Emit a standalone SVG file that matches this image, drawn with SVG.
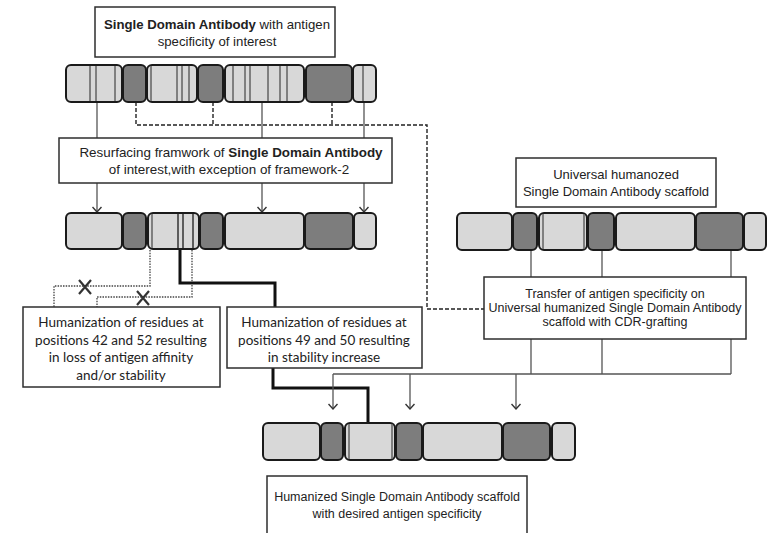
<svg xmlns="http://www.w3.org/2000/svg" width="777" height="533" viewBox="0 0 777 533">
<style>
.bg{fill:#fff}
.box{fill:#fff;stroke:#2e2e2e;stroke-width:1.5}
.lt{fill:#d8d8d8;stroke:#1a1a1a;stroke-width:2}
.dk{fill:#7d7d7d;stroke:#1a1a1a;stroke-width:2}
.st{stroke:#6a6a6a;stroke-width:1.6}
.ar{font-family:"Liberation Sans",Arial,sans-serif;font-size:12.5px;fill:#222;text-anchor:middle}
.ar13{font-size:13.2px}
.ca{font-family:Lato,"Open Sans",sans-serif;font-size:13.5px;fill:#222;text-anchor:middle}
.b{font-weight:bold}
.con{fill:none;stroke:#555;stroke-width:1.3}
.dash{fill:none;stroke:#222;stroke-width:1.4;stroke-dasharray:4,2}
.dot{fill:none;stroke:#444;stroke-width:1.3;stroke-dasharray:1.5,1.2}
.thick{fill:none;stroke:#111;stroke-width:3}
.x{stroke:#333;stroke-width:2.2}
</style>
<defs>
<marker id="arr" markerWidth="10" markerHeight="10" refX="9" refY="5" orient="auto" markerUnits="userSpaceOnUse" viewBox="0 0 10 10">
<polyline points="4,0.5 9,5 4,9.5" fill="none" stroke="#333" stroke-width="1.4"/>
</marker>
</defs>
<rect class="bg" width="777" height="533"/>

<g id="connectors">
<line class="con" x1="97" y1="102" x2="97" y2="138"/>
<line class="con" x1="262" y1="102" x2="262" y2="138"/>
<line class="con" x1="364" y1="102" x2="364" y2="138"/>
<line class="con" x1="97" y1="183" x2="97" y2="212" marker-end="url(#arr)"/>
<line class="con" x1="262" y1="183" x2="262" y2="212" marker-end="url(#arr)"/>
<line class="con" x1="364" y1="183" x2="364" y2="212" marker-end="url(#arr)"/>
<path class="dash" d="M136,102 V125 H427 V309 H484"/>
<path class="dash" d="M213,102 V125"/>
<path class="dash" d="M332,102 V125"/>
<path class="dot" d="M150,250 V286 H54 V307"/>
<path class="dot" d="M192,250 V297 H97 V307"/>
<path class="x" d="M79,280 L91,294 M91,280 L79,294"/>
<path class="x" d="M137,291 L149,305 M149,291 L137,305"/>
<path class="thick" d="M180,250 V283 H275 V307"/>
<path class="thick" d="M273,368 V388 H368 V423"/>
<line class="con" x1="531" y1="250" x2="531" y2="277"/>
<line class="con" x1="602" y1="250" x2="602" y2="277"/>
<line class="con" x1="731" y1="250" x2="731" y2="277"/>
<path class="con" d="M531,339 V374 M602,339 V374 M731,339 V374 M333,374 H731"/>
<line class="con" x1="333" y1="374" x2="333" y2="409" marker-end="url(#arr)"/>
<line class="con" x1="410" y1="374" x2="410" y2="409" marker-end="url(#arr)"/>
<line class="con" x1="516" y1="374" x2="516" y2="409" marker-end="url(#arr)"/>
</g>

<g id="box-top">
<rect class="box" x="95" y="7" width="240" height="50"/>
<text class="ar ar13" x="217" y="29"><tspan class="b">Single Domain Antibody</tspan> with antigen</text>
<text class="ar ar13" x="217" y="46">specificity of interest</text>
</g>

<g id="bar1">
<rect class="lt" x="66" y="65" width="56" height="37" rx="5"/>
<rect class="dk" x="123" y="65" width="23" height="37" rx="5"/>
<rect class="lt" x="147" y="65" width="50" height="37" rx="5"/>
<rect class="dk" x="198" y="65" width="25" height="37" rx="5"/>
<rect class="lt" x="225" y="65" width="79" height="37" rx="5"/>
<rect class="dk" x="306" y="65" width="46" height="37" rx="5"/>
<rect class="lt" x="353" y="65" width="23" height="37" rx="5"/>
<path class="st" d="M90,66 V101 M96,66 V101 M115,66 V101 M151,66 V101 M177,66 V101 M182,66 V101 M189,66 V101 M233,66 V101 M245,66 V101 M250,66 V101 M268,66 V101 M280,66 V101 M287,66 V101 M363,66 V101"/>
</g>

<g id="box-resurfacing">
<rect class="box" x="59" y="138" width="333" height="45"/>
<text class="ar" x="231" y="157" style="font-size:13.4px">Resurfacing framwork of <tspan class="b">Single Domain Antibody</tspan></text>
<text class="ar" x="229" y="174" style="font-size:13.4px">of interest,with exception of framework-2</text>
</g>

<g id="bar2">
<rect class="lt" x="66" y="213" width="56" height="36" rx="5"/>
<rect class="dk" x="123" y="213" width="23" height="36" rx="5"/>
<rect class="lt" x="148" y="213" width="51" height="36" rx="5"/>
<rect class="dk" x="200" y="213" width="23" height="36" rx="5"/>
<rect class="lt" x="225" y="213" width="79" height="36" rx="5"/>
<rect class="dk" x="305" y="213" width="48" height="36" rx="5"/>
<rect class="lt" x="354" y="213" width="22" height="36" rx="5"/>
<path class="st" d="M152,214 V248" />
<path d="M178,214 V248 M183,214 V248 M193,214 V248" stroke="#333" stroke-width="1.5"/>
</g>

<g id="box-universal">
<rect class="box" x="516" y="158" width="200" height="49"/>
<text class="ar" x="616" y="179" style="font-size:13px">Universal humanozed</text>
<text class="ar" x="616" y="196" style="font-size:13px">Single Domain Antibody scaffold</text>
</g>

<g id="bar-universal">
<rect class="lt" x="457" y="213" width="55" height="37" rx="5"/>
<rect class="dk" x="513" y="213" width="24" height="37" rx="5"/>
<rect class="lt" x="539" y="213" width="48" height="37" rx="5"/>
<rect class="dk" x="588" y="213" width="26" height="37" rx="5"/>
<rect class="lt" x="616" y="213" width="79" height="37" rx="5"/>
<rect class="dk" x="696" y="213" width="47" height="37" rx="5"/>
<rect class="lt" x="744" y="213" width="22" height="37" rx="5"/>
<path class="st" d="M543,214 V249 M584,214 V249"/>
</g>

<g id="box-loss">
<rect class="box" x="23" y="307" width="197" height="80"/>
<text class="ca" x="121" y="327">Humanization of residues at</text>
<text class="ca" x="121" y="345">positions 42 and 52 resulting</text>
<text class="ca" x="121" y="362">in loss of antigen affinity</text>
<text class="ca" x="121" y="380">and/or stability</text>
</g>

<g id="box-stability">
<rect class="box" x="227" y="307" width="195" height="61"/>
<text class="ca" x="324" y="327">Humanization of residues at</text>
<text class="ca" x="324" y="345">positions 49 and 50 resulting</text>
<text class="ca" x="324" y="362">in stability increase</text>
</g>

<g id="box-transfer">
<rect class="box" x="484" y="277" width="262" height="62"/>
<text class="ar" x="615" y="298">Transfer of antigen specificity on</text>
<text class="ar" x="615" y="312">Universal humanized Single Domain Antibody</text>
<text class="ar" x="615" y="326">scaffold with CDR-grafting</text>
</g>

<g id="bar-final">
<rect class="lt" x="263" y="423" width="57" height="37" rx="5"/>
<rect class="dk" x="321" y="423" width="22" height="37" rx="5"/>
<rect class="lt" x="345" y="423" width="50" height="37" rx="5"/>
<rect class="dk" x="396" y="423" width="26" height="37" rx="5"/>
<rect class="lt" x="423" y="423" width="79" height="37" rx="5"/>
<rect class="dk" x="503" y="423" width="47" height="37" rx="5"/>
<rect class="lt" x="552" y="423" width="23" height="37" rx="5"/>
<path class="st" d="M349,424 V459 M392,424 V459"/>
</g>

<g id="box-final">
<rect class="box" x="267" y="476" width="260" height="70"/>
<text class="ar" x="397" y="501">Humanized Single Domain Antibody scaffold</text>
<text class="ar" x="397" y="518">with desired antigen specificity</text>
</g>
</svg>
